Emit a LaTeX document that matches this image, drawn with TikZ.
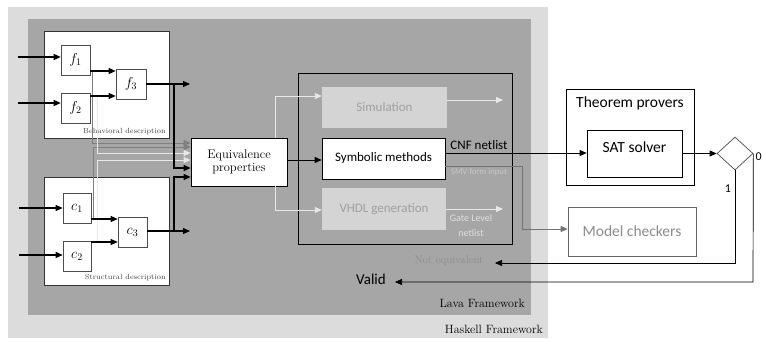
\documentclass[tikz,border=0pt]{standalone}
\usepackage{fontspec}
\newfontfamily\sansf{Carlito}
\usetikzlibrary{arrows.meta,shapes.geometric}
\newcommand\myfs[1]{\fontsize{#1}{#1}\selectfont}
\definecolor{haskell}{HTML}{DCDCDC}
\definecolor{lava}{HTML}{A6A6A6}
\definecolor{ghost}{HTML}{D4D4D4}
\definecolor{ghosttxt}{HTML}{A0A0A0}
\definecolor{dgray}{HTML}{7F7F7F}
\definecolor{lgray}{HTML}{E8E8E8}
\begin{document}
\begin{tikzpicture}[x=1pt,y=-1pt,
  arr/.style={-{Triangle[length=7pt,width=6pt]}},
  wire/.style={line width=1.1pt,arr},
  thin/.style={line width=0.8pt,arr},
  gate/.style={draw=black!70,fill=white,inner sep=0pt,line width=0.6pt,font=\myfs{14}},
  desc/.style={draw=black!80,fill=white,line width=0.6pt},
  box/.style={draw,fill=white,inner sep=0pt,line width=0.7pt},
  ghostbox/.style={fill=ghost,inner sep=0pt,text=ghosttxt,font=\sansf\myfs{13}},
  lbl/.style={inner sep=0pt}]
\useasboundingbox (0,0) rectangle (762,338);
\fill[haskell] (8,7) rectangle (548,338);
\fill[lava] (28,19) rectangle (531,315);
\node[lbl,anchor=east,font=\myfs{12}] (haskl) at (543,329) {Haskell Framework};
\node[lbl,anchor=east,font=\myfs{12}] (laval) at (525,303) {Lava Framework};

% descriptions
\node[desc,minimum width=125pt,minimum height=107pt,inner sep=0pt] (beh) at (106.5,84.5) {};
\node[desc,minimum width=125pt,minimum height=108pt,inner sep=0pt] (str) at (106.5,231) {};
\node[lbl,anchor=east,font=\myfs{7.4},text=black!75] (behl) at (166,132) {Behavioral description};
\node[lbl,anchor=east,font=\myfs{7.4},text=black!75] (strl) at (166,278) {Structural description};

\node[gate,minimum width=29pt,minimum height=30pt] (f1) at (75.5,60) {$f_1$};
\node[gate,minimum width=29pt,minimum height=30pt] (f2) at (75.5,108) {$f_2$};
\node[gate,minimum width=30pt,minimum height=30pt] (f3) at (131,84) {$f_3$};
\node[gate,minimum width=28pt,minimum height=30pt] (c1) at (77,208) {$c_1$};
\node[gate,minimum width=28pt,minimum height=30pt] (c2) at (77,256) {$c_2$};
\node[gate,minimum width=29pt,minimum height=30pt] (c3) at (132.5,232) {$c_3$};

\node[box,minimum width=96pt,minimum height=48pt,align=center,font=\myfs{12.5}] (eq) at (239,162) {Equivalence\\[1pt]properties};

% gray lines from gate outputs
\coordinate (j1) at (92,71);
\coordinate (j2) at (93,219);
\coordinate (j3) at (97,96);
\coordinate (j4) at (97,242);
\draw[dgray,line width=0.9pt,arr] (j1) -- (92,143) -- (eq.west |- 0,143);
\draw[dgray,line width=0.9pt,arr] (j2) -- (93,147) -- (eq.west |- 0,147);
\draw[lgray,line width=0.9pt,arr] (j3) -- (97,153) -- (eq.west |- 0,153);
\draw[lgray,line width=0.9pt,arr] (j4) -- (97,160) -- (eq.west |- 0,160);

% inputs
\coordinate (i1) at (18,57);
\coordinate (i2) at (18,103);
\coordinate (i3) at (19,208);
\coordinate (i4) at (19,255);
\draw[wire] (i1) -- (i1 -| f1.west);
\draw[wire] (i2) -- (i2 -| f2.west);
\draw[wire] (i3) -- (i3 -| c1.west);
\draw[wire] (i4) -- (i4 -| c2.west);
\draw[wire] (f1.east |- 0,71) -- (f3.west |- 0,71);
\draw[wire] (f2.east |- 0,96) -- (f3.west |- 0,96);
\draw[wire] (c1.east |- 0,219) -- (c3.west |- 0,219);
\draw[wire] (c2.east |- 0,242) -- (c3.west |- 0,242);
\coordinate (o1) at (190,84);
\coordinate (o2) at (190,231);
\draw[wire] (f3.east |- 0,84) -- (o1);
\draw[wire] (c3.east |- 0,231) -- (o2);
\draw[wire] (174,84) -- (174,168) -- (eq.west |- 0,168);
\draw[wire] (174,231) -- (174,177) -- (eq.west |- 0,177);

% inner box
\draw[line width=0.8pt] (298,73) rectangle (512,244);
\node[ghostbox,minimum width=125pt,minimum height=41pt] (sim) at (384.5,107.5) {Simulation};
\node[box,minimum width=123pt,minimum height=41pt,font=\sansf\myfs{13}] (sym) at (383.5,158.5) {Symbolic methods};
\node[ghostbox,minimum width=124pt,minimum height=42pt] (vhdl) at (384,209) {VHDL generation};
\draw[thin] (eq.east |- 0,160) -- (sym.west |- 0,160);
\draw[lgray,line width=0.9pt,arr] (eq.north -| 275,0) -- (275,96) -- (sim.west |- 0,96);
\draw[lgray,line width=0.9pt,arr] (eq.south -| 275,0) -- (275,210) -- (vhdl.west |- 0,210);
\coordinate (so) at (503,100);
\coordinate (vo) at (503,209);
\draw[lgray,line width=0.9pt,arr] (sim.east |- so) -- (so);
\draw[lgray,line width=0.9pt,arr] (vhdl.east |- vo) -- (vo);

\node[lbl,font=\sansf\myfs{13}] (cnf) at (479,145) {CNF netlist};
\node[lbl,font=\sansf\myfs{8.7},text=black!22] (smv) at (479,172) {SMV form input};
\node[lbl,font=\sansf\myfs{10},text=black!12] (gl1) at (471,218) {Gate Level};
\node[lbl,font=\sansf\myfs{10},text=black!12] (gl2) at (471,233) {netlist};

% right side
\node[box,minimum width=128pt,minimum height=96pt] (thm) at (630,137) {};
\node[lbl,font=\sansf\myfs{15.5}] (thml) at (630,103) {Theorem provers};
\node[box,minimum width=95pt,minimum height=47pt,font=\sansf\myfs{15.5},text depth=12pt] (sat) at (634.5,153.5) {SAT solver};
\node[draw=black!60,fill=white,line width=0.7pt,minimum width=128pt,minimum height=49pt,inner sep=0pt,text=black!45,font=\sansf\myfs{15.5}] (mc) at (632,231.5) {Model checkers};
\node[diamond,draw=black!70,fill=white,line width=0.7pt,minimum width=36pt,minimum height=33pt,inner sep=0pt] (dec) at (735,153.5) {};

\draw[line width=0.7pt,arr] (sym.east |- 0,153) -- (sat.west |- 0,153);
\draw[black!55,line width=0.8pt,arr] (sym.east |- 0,166) -- (522,166) -- (522,229) -- (mc.west |- 0,229);
\draw[line width=0.7pt,arr] (sat.east |- 0,153.5) -- (dec.west);

\node[lbl,font=\myfs{11},text=black!45] (neq) at (449,261) {Not equivalent};
\node[lbl,font=\sansf\myfs{15}] (valid) at (371,279) {Valid};
\node[lbl,font=\sansf\myfs{12}] (one) at (728,189) {1};
\node[lbl,anchor=west,font=\sansf\myfs{12}] (zero) at (755.5,157) {0};
\draw[line width=0.7pt,arr] (dec.south) -- (735,263) -- (495,263);
\draw[line width=0.7pt,arr] (dec.east) -- (753,282) -- (395,282);
\end{tikzpicture}
\end{document}
